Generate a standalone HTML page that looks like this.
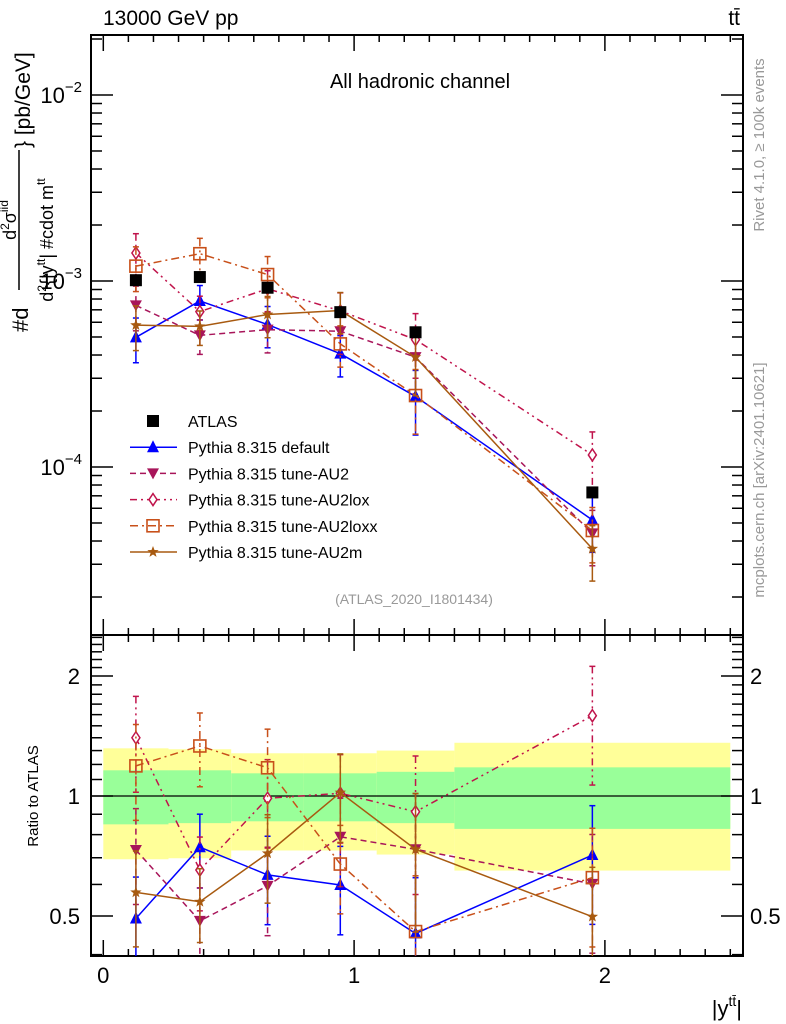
<!DOCTYPE html>
<html><head><meta charset="utf-8">
<style>
body{margin:0;background:#fff;}
svg{display:block;font-family:"Liberation Sans",sans-serif;}
</style></head>
<body>
<svg id="c" width="786" height="1024" viewBox="0 0 786 1024"></svg>
<script>
const xCenters=[0.13,0.385,0.655,0.945,1.245,1.95];
const binEdges=[0,0.26,0.51,0.8,1.09,1.4,2.5];
const atlas=[1.01e-3,1.05e-3,0.92e-3,6.8e-4,5.3e-4,7.3e-5];
const bandYellowHi=[1.317,1.31,1.28,1.28,1.30,1.36];
const bandGreenHi=[1.16,1.16,1.14,1.14,1.15,1.18];
const bandGreenLo=[0.849,0.855,0.864,0.864,0.855,0.827];
const bandYellowLo=[0.694,0.698,0.73,0.73,0.713,0.65];
const rDefault=[0.493,0.744,0.634,0.598,0.452,0.711];
const rAU2=[0.732,0.486,0.595,0.79,0.735,0.602];
const rAU2lox=[1.40,0.652,0.987,1.016,0.913,1.59];
const rAU2loxx=[1.19,1.335,1.177,0.675,0.457,0.624];
const rAU2m=[0.573,0.543,0.718,1.02,0.735,0.498];
const relErr=[0.27,0.21,0.25,0.25,0.38,0.33];
const xTicks=[0,1,2];
const ratioTicks=[0.5,1,2];

const NS="http://www.w3.org/2000/svg";
const svg=document.getElementById('c');
function el(tag,attrs,parent){const e=document.createElementNS(NS,tag);for(const k in attrs)e.setAttribute(k,attrs[k]);(parent||svg).appendChild(e);return e;}
const L=91,R=743,T=35,MID=635,B=956;
const X=v=>103.3+v*250.8;
const YM=v=>95+(-2-Math.log10(v))*186;
const YR=v=>796-Math.log2(v)*120;

const bands=el('g',{});


for(let i=0;i<xCenters.length;i++){
  const x0=X(binEdges[i]),x1=X(binEdges[i+1]);
  const y=el('rect',{x:x0,y:YR(bandYellowHi[i]),width:x1-x0,height:YR(bandYellowLo[i])-YR(bandYellowHi[i]),fill:'#ffff99'},bands);
  
  
  const g=el('rect',{x:x0,y:YR(bandGreenHi[i]),width:x1-x0,height:YR(bandGreenLo[i])-YR(bandGreenHi[i]),fill:'#99ff99'},bands);
  
  
}
const one=el('line',{x1:L,x2:R,y1:YR(1),y2:YR(1),stroke:'#000','stroke-width':1.2});



for(const [y0,y1,nm] of [[T,MID,'main-frame'],[MID,B,'ratio-frame']]){
  const f=el('rect',{x:L,y:y0,width:R-L,height:y1-y0,fill:'none',stroke:'#000','stroke-width':2});
  
  
}
for(let v=0;v<=2.55;v+=0.1){
  const k=Math.abs(v-Math.round(v))<1e-6;const len=k?16:7;const x=X(v);
  if(x>R)break;
  for(const [yb,dir] of [[T,1],[MID,-1],[MID,1],[B,-1]]){
    el('line',{x1:x,x2:x,y1:yb,y2:yb+dir*len,stroke:'#000','stroke-width':1.5});
  }
}
xTicks.forEach(v=>{const t=el('text',{x:X(v),y:983,'font-size':22,'text-anchor':'middle'});t.textContent=v;

});
for(let d=-5;d<=-1;d++){for(let m=1;m<10;m++){const v=m*Math.pow(10,d);const y=YM(v);if(y<T||y>MID)continue;
 const len=m==1?22:11;
 el('line',{x1:L,x2:L+len,y1:y,y2:y,stroke:'#000','stroke-width':1.5});
 el('line',{x1:R,x2:R-len,y1:y,y2:y,stroke:'#000','stroke-width':1.5});}}
for(const d of [-2,-3,-4]){const t=el('text',{x:82,y:YM(Math.pow(10,d))+8,'font-size':22,'text-anchor':'end'});
 t.innerHTML='10<tspan dy="-11" font-size="15">−'+(-d)+'</tspan>';
 
 }
for(let v=0.4;v<2.6;v+=0.1){const y=YR(v);if(y<MID||y>B)continue;const maj=ratioTicks.some(r=>Math.abs(r-v)<1e-6);const len=maj?22:11;
 el('line',{x1:L,x2:L+len,y1:y,y2:y,stroke:'#000','stroke-width':1.5});
 el('line',{x1:R,x2:R-len,y1:y,y2:y,stroke:'#000','stroke-width':1.5});}
ratioTicks.forEach(v=>{const lab=v==0.5?'0.5':String(v);
 const a=el('text',{x:80,y:YR(v)+8,'font-size':22,'text-anchor':'end'});a.textContent=lab;
 
 
 const b=el('text',{x:750,y:YR(v)+8,'font-size':22});b.textContent=lab;
 
 });

const series=[
 {name:'default',r:rDefault,c:'#0000ff',dash:'',m:'tri'},
 {name:'AU2',r:rAU2,c:'#a8155a',dash:'6,4',m:'tridown'},
 {name:'AU2lox',r:rAU2lox,c:'#c0144c',dash:'7,4,2,4,2,4',m:'diamond'},
 {name:'AU2loxx',r:rAU2loxx,c:'#c8501a',dash:'8,4,2,4',m:'square'},
 {name:'AU2m',r:rAU2m,c:'#a85a10',dash:'',m:'star'},
];
function marker(type,x,y,c,parent){
 if(type=='tri')return el('polygon',{points:`${x},${y-7} ${x-6},${y+5} ${x+6},${y+5}`,fill:c},parent);
 if(type=='tridown')return el('polygon',{points:`${x},${y+6} ${x-6},${y-5} ${x+6},${y-5}`,fill:c},parent);
 if(type=='diamond')return el('polygon',{points:`${x},${y-6} ${x-4},${y} ${x},${y+6} ${x+4},${y}`,fill:'#fff',stroke:c,'stroke-width':1.5},parent);
 if(type=='square')return el('rect',{x:x-6,y:y-6,width:12,height:12,fill:'none',stroke:c,'stroke-width':1.6},parent);
 if(type=='star'){let p='';for(let k=0;k<10;k++){const rr=k%2?2.5:6,a=Math.PI/5*k-Math.PI/2;p+=(x+rr*Math.cos(a))+','+(y+rr*Math.sin(a))+' ';}return el('polygon',{points:p,fill:c},parent);}
 if(type=='sq')return el('rect',{x:x-6,y:y-6,width:12,height:12,fill:c},parent);
}
const defs=el('defs',{});
const clipM=el('clipPath',{id:'cm'},defs);el('rect',{x:L,y:T,width:R-L,height:MID-T},clipM);
const clipR=el('clipPath',{id:'cr'},defs);el('rect',{x:L,y:MID,width:R-L,height:B-MID},clipR);
series.forEach(s=>{
 for(const panel of ['main','ratio']){
  const g=el('g',{'clip-path':panel=='main'?'url(#cm)':'url(#cr)'});
  
  
  const Y=panel=='main'?(i=>YM(s.r[i]*atlas[i])):(i=>YR(s.r[i]));
  const Yv=panel=='main'?((i,f)=>YM(s.r[i]*atlas[i]*f)):((i,f)=>YR(s.r[i]*f));
  const pts=xCenters.map((x,i)=>X(x)+','+Y(i)).join(' ');
  el('polyline',{points:pts,fill:'none',stroke:s.c,'stroke-width':1.5,'stroke-dasharray':s.dash},g);
  xCenters.forEach((x,i)=>{
   const yt=Yv(i,1+relErr[i]),yb=Yv(i,Math.max(0.05,1-relErr[i]));
   el('line',{x1:X(x),x2:X(x),y1:yt,y2:yb,stroke:s.c,'stroke-width':1.5,'stroke-dasharray':s.dash},g);
   el('line',{x1:X(x)-3,x2:X(x)+3,y1:yt,y2:yt,stroke:s.c,'stroke-width':1.5},g);
   el('line',{x1:X(x)-3,x2:X(x)+3,y1:yb,y2:yb,stroke:s.c,'stroke-width':1.5},g);
   const mk=marker(s.m,X(x),Y(i),s.c,g);
   
   
  });
 }
});
const ag=el('g',{'clip-path':'url(#cm)'});


xCenters.forEach((x,i)=>{const m=marker('sq',X(x),YM(atlas[i]),'#000',ag);
 
 });

const leg=el('g',{});


const legItems=[['ATLAS',null],['Pythia 8.315 default',series[0]],['Pythia 8.315 tune-AU2',series[1]],['Pythia 8.315 tune-AU2lox',series[2]],['Pythia 8.315 tune-AU2loxx',series[3]],['Pythia 8.315 tune-AU2m',series[4]]];
legItems.forEach((it,k)=>{const y=421+k*26.2;
 const gi=el('g',{},leg);
 
 
 if(it[1]){el('line',{x1:130,x2:177,y1:y,y2:y,stroke:it[1].c,'stroke-width':1.5,'stroke-dasharray':it[1].dash},gi);marker(it[1].m,153,y,it[1].c,gi);}
 else marker('sq',153,y,'#000',gi);
 const t=el('text',{x:188,y:y+6,'font-size':16},gi);t.textContent=it[0];});

function txt(s,attrs,name,parent){const t=el('text',attrs,parent);t.textContent=s;return t;}
txt('13000 GeV pp',{x:103,y:25,'font-size':21},'energy-label');
txt('tt̄',{x:740,y:25,'font-size':21,'text-anchor':'end'},'process-label');
txt('All hadronic channel',{x:420,y:88,'font-size':20,'text-anchor':'middle'},'channel-label');
txt('(ATLAS_2020_I1801434)',{x:414,y:604,'font-size':14,fill:'#999','text-anchor':'middle'},'analysis-id');
txt('Ratio to ATLAS',{x:0,y:0,'font-size':15,'text-anchor':'middle',transform:'translate(38,796) rotate(-90)'},'ratio-y-title');
txt('Rivet 4.1.0, ≥ 100k events',{x:0,y:0,'font-size':15,fill:'#999','text-anchor':'middle',transform:'translate(764,145) rotate(-90)'},'rivet-label');
txt('mcplots.cern.ch [arXiv:2401.10621]',{x:0,y:0,'font-size':15,fill:'#999','text-anchor':'middle',transform:'translate(764,480) rotate(-90)'},'mcplots-label');
const xt=el('text',{x:742,y:1016,'font-size':22,'text-anchor':'end'});
xt.innerHTML='|y<tspan dy="-10" font-size="14">tt̄</tspan><tspan dy="10">|</tspan>';



// y-axis title (rotated group: local u along upward, v = screen x)
const yg=el('g',{transform:'translate(0,340) rotate(-90)'});


txt('#d',{x:8,y:28,'font-size':22},'y-title-hash-d',yg);
el('line',{x1:50,x2:190,y1:19,y2:19,stroke:'#000','stroke-width':1.5},yg);
const num=el('text',{x:120,y:16,'font-size':18,'text-anchor':'middle'},yg);
num.innerHTML='d<tspan dy="-7" font-size="12">2</tspan><tspan dy="7">σ</tspan><tspan dy="-8" font-size="12">iid</tspan>';


const den=el('text',{x:100,y:53,'font-size':18,'text-anchor':'middle'},yg);
den.innerHTML='d<tspan dy="-7" font-size="12">2</tspan><tspan dy="7">{|y</tspan><tspan dy="-8" font-size="12">tt</tspan><tspan dy="8">| #cdot m</tspan><tspan dy="-8" font-size="12">tt</tspan>';


txt('} [pb/GeV]',{x:192,y:30,'font-size':21},'y-title-units',yg);
</script>
</body></html>
